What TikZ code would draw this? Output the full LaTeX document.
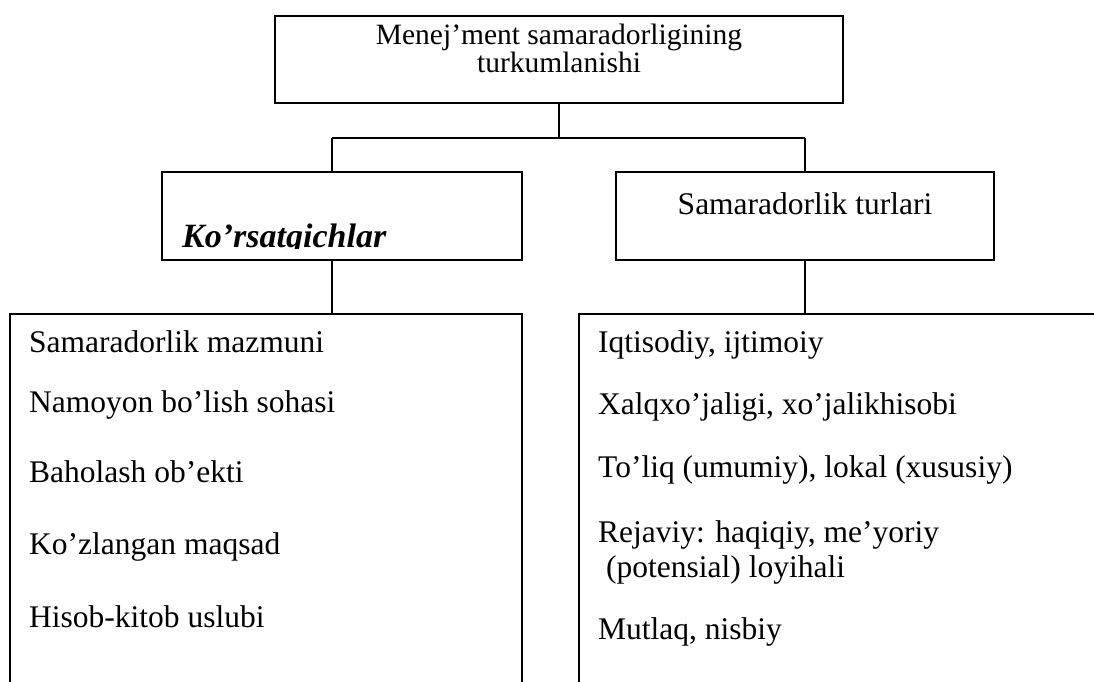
\documentclass[tikz,border=0pt]{standalone}
\usepackage{fontspec}
\setmainfont{Liberation Serif}
\begin{document}
\begin{tikzpicture}[x=1pt,y=-1pt,
  box/.style={draw, line width=1.5pt, inner sep=0pt},
  conn/.style={line width=1.3pt},
  txt/.style={anchor=base west, inner sep=0pt, font=\fontsize{31.5}{36}\selectfont},
  ctxt/.style={anchor=base, inner sep=0pt, font=\fontsize{29.5}{34}\selectfont}]
\clip (0,0) rectangle (1094,681);
\fill[white] (0,0) rectangle (1094,681);
% top box
\node[box, minimum width=568pt, minimum height=87pt] (top) at (559,59.5) {};
\node[ctxt] (t1) at (559,44) {Menej’ment samaradorligining};
\node[ctxt] (t2) at (559,72) {turkumlanishi};
% middle boxes
\node[box, minimum width=360pt, minimum height=88pt] (ml) at (342,216) {};
\node[box, minimum width=378pt, minimum height=88pt] (mr) at (805,216) {};
\node[anchor=base, inner sep=0pt, font=\fontsize{31.5}{36}\selectfont] (mrt) at (805,214) {Samaradorlik turlari};
\begin{scope}
\clip (162,172) rectangle (522,248);
\node[anchor=base west, inner sep=0pt, font=\fontsize{34}{40}\selectfont\bfseries\itshape] (mlt) at (182,247) {Ko’rsatgichlar};
\end{scope}
% connectors
\coordinate (jl) at (332,138);
\coordinate (jr) at (805,138);
\draw[conn] (top.south) -- (top.south |- jl);
\draw[conn] (jl) -- (jr);
\draw[conn] (jl) -- (jl |- ml.north);
\draw[conn] (jr) -- (mr.north);
% bottom boxes (open at the bottom of the page)
\node[box, anchor=north west, minimum width=512pt, minimum height=420pt] (lb) at (9,313) {};
\node[box, anchor=north west, minimum width=560pt, minimum height=420pt] (rb) at (578,313) {};
\draw[conn] (jl |- ml.south) -- (jl |- lb.north);
\draw[conn] (mr.south) -- (mr.south |- rb.north);
% left list
\node[txt] (l1) at (29,352) {Samaradorlik mazmuni};
\node[txt] (l2) at (29,412) {Namoyon bo’lish sohasi};
\node[txt] (l3) at (29,482) {Baholash ob’ekti};
\node[txt] (l4) at (29,554) {Ko’zlangan maqsad};
\node[txt] (l5) at (29,627) {Hisob-kitob uslubi};
% right list
\node[txt] (r1) at (598,352) {Iqtisodiy, ijtimoiy};
\node[txt] (r2) at (598,414) {Xalqxo’jaligi, xo’jalikhisobi};
\node[txt] (r3) at (598,477) {To’liq (umumiy), lokal (xususiy)};
\node[txt] (r4) at (598,542) {Rejaviy: haqiqiy, me’yoriy};
\node[txt] (r5) at (606,577) {(potensial) loyihali};
\node[txt] (r6) at (598,639) {Mutlaq, nisbiy};
\end{tikzpicture}
\end{document}
